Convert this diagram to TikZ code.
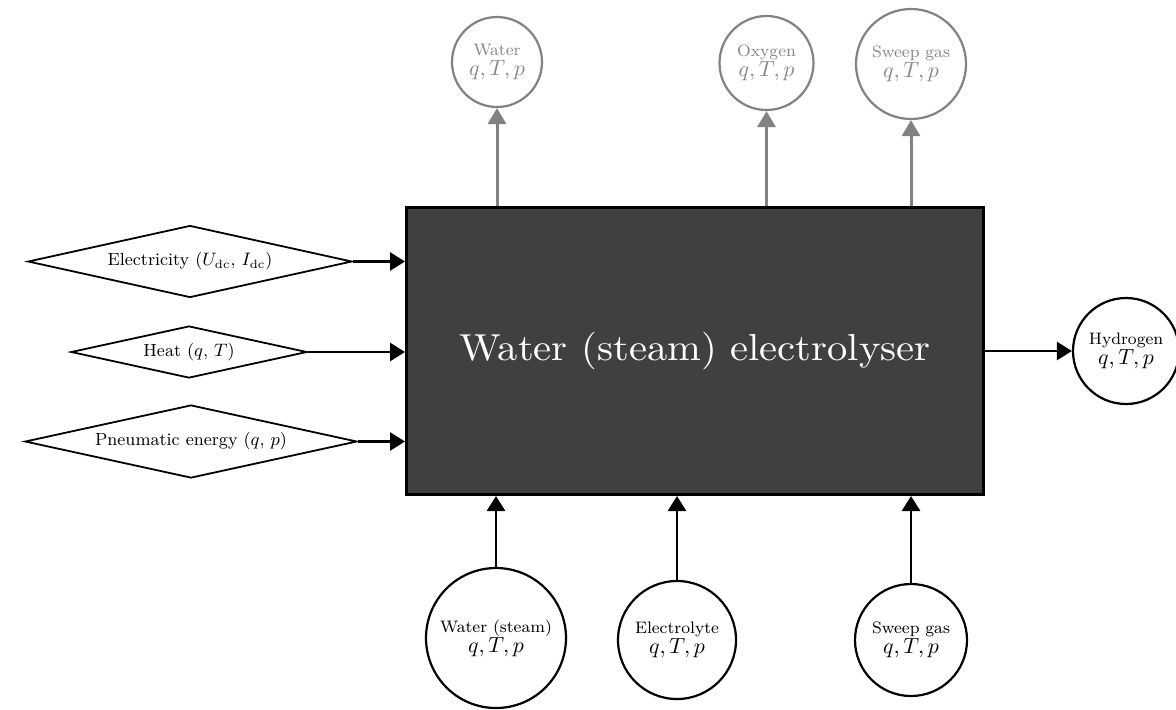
\documentclass[tikz,border=0pt]{standalone}
\usepackage{graphicx}
\usetikzlibrary{shapes.geometric,arrows.meta}
\definecolor{boxfill}{RGB}{64,64,64}
\definecolor{outgray}{RGB}{130,130,130}
\definecolor{outtext}{RGB}{135,135,135}
\newcommand\streamlbl[1]{#1\\[-1pt]{\fontsize{11}{11}\selectfont$q,T,p$}}
\begin{document}
\begin{tikzpicture}[x=0.5pt,y=-0.5pt,
  inarrow/.style={draw=black,line width=1.4pt,-{Triangle[length=7.5pt,width=9pt]}},
  outarrow/.style={draw=outgray,line width=1.5pt,-{Triangle[length=8pt,width=9pt]}},
  src/.style={diamond,draw=black,line width=0.9pt,inner sep=0pt,aspect=4.5,font=\fontsize{8.8}{10}\selectfont},
  stream/.style={circle,draw=black,line width=1.1pt,inner sep=0pt,align=center,font=\fontsize{8.3}{11}\selectfont},
  outstream/.style={stream,draw=outgray,text=outtext},
]
\fill[white] (0,0) rectangle (1176,709);
\useasboundingbox (0,0) rectangle (1176,709);
% main block
\node[draw=black,fill=boxfill,line width=1.5pt,minimum width=288.5pt,minimum height=143.5pt,inner sep=0pt,text=white,font=\fontsize{10}{12}\selectfont] (box) at (695,351) {\scalebox{2.03}[1.88]{Water (steam) electrolyser}};
% energy sources
\node[src,minimum width=162pt,minimum height=36pt] (elec) at (190,261.5) {Electricity ($U_{\mathrm{dc}}$, $I_{\mathrm{dc}}$)};
\node[src,minimum width=118pt,minimum height=26pt] (heat) at (189,352) {Heat ($q$, $T$)};
\node[src,minimum width=166pt,minimum height=36.5pt] (pneu) at (191,441.5) {Pneumatic energy ($q$, $p$)};
% outputs (top)
\node[outstream,minimum size=45pt] (wout) at (497,62) {\streamlbl{Water}};
\node[outstream,minimum size=47pt] (oxy) at (766.5,63) {\streamlbl{Oxygen}};
\node[outstream,minimum size=55pt] (sgout) at (911,64) {\streamlbl{Sweep gas}};
% hydrogen
\node[stream,minimum size=53pt] (hyd) at (1126,351) {\streamlbl{Hydrogen}};
% inputs (bottom)
\node[stream,minimum size=70pt] (win) at (496,638) {\streamlbl{Water (steam)}};
\node[stream,minimum size=59pt] (elyte) at (677,640) {\streamlbl{Electrolyte}};
\node[stream,minimum size=56pt] (sgin) at (911,640) {\streamlbl{Sweep gas}};
% connectors
\draw[inarrow] (elec.east) -- (elec.east -| box.west);
\draw[inarrow] (heat.east) -- (heat.east -| box.west);
\draw[inarrow] (pneu.east) -- (pneu.east -| box.west);
\draw[outarrow] (wout.south |- box.north) -- (wout.south);
\draw[outarrow] (oxy.south |- box.north) -- (oxy.south);
\draw[outarrow] (sgout.south |- box.north) -- (sgout.south);
\draw[inarrow] (box.east |- hyd.west) -- (hyd.west);
\draw[inarrow] (win.north) -- (win.north |- box.south);
\draw[inarrow] (elyte.north) -- (elyte.north |- box.south);
\draw[inarrow] (sgin.north) -- (sgin.north |- box.south);
\end{tikzpicture}
\end{document}
